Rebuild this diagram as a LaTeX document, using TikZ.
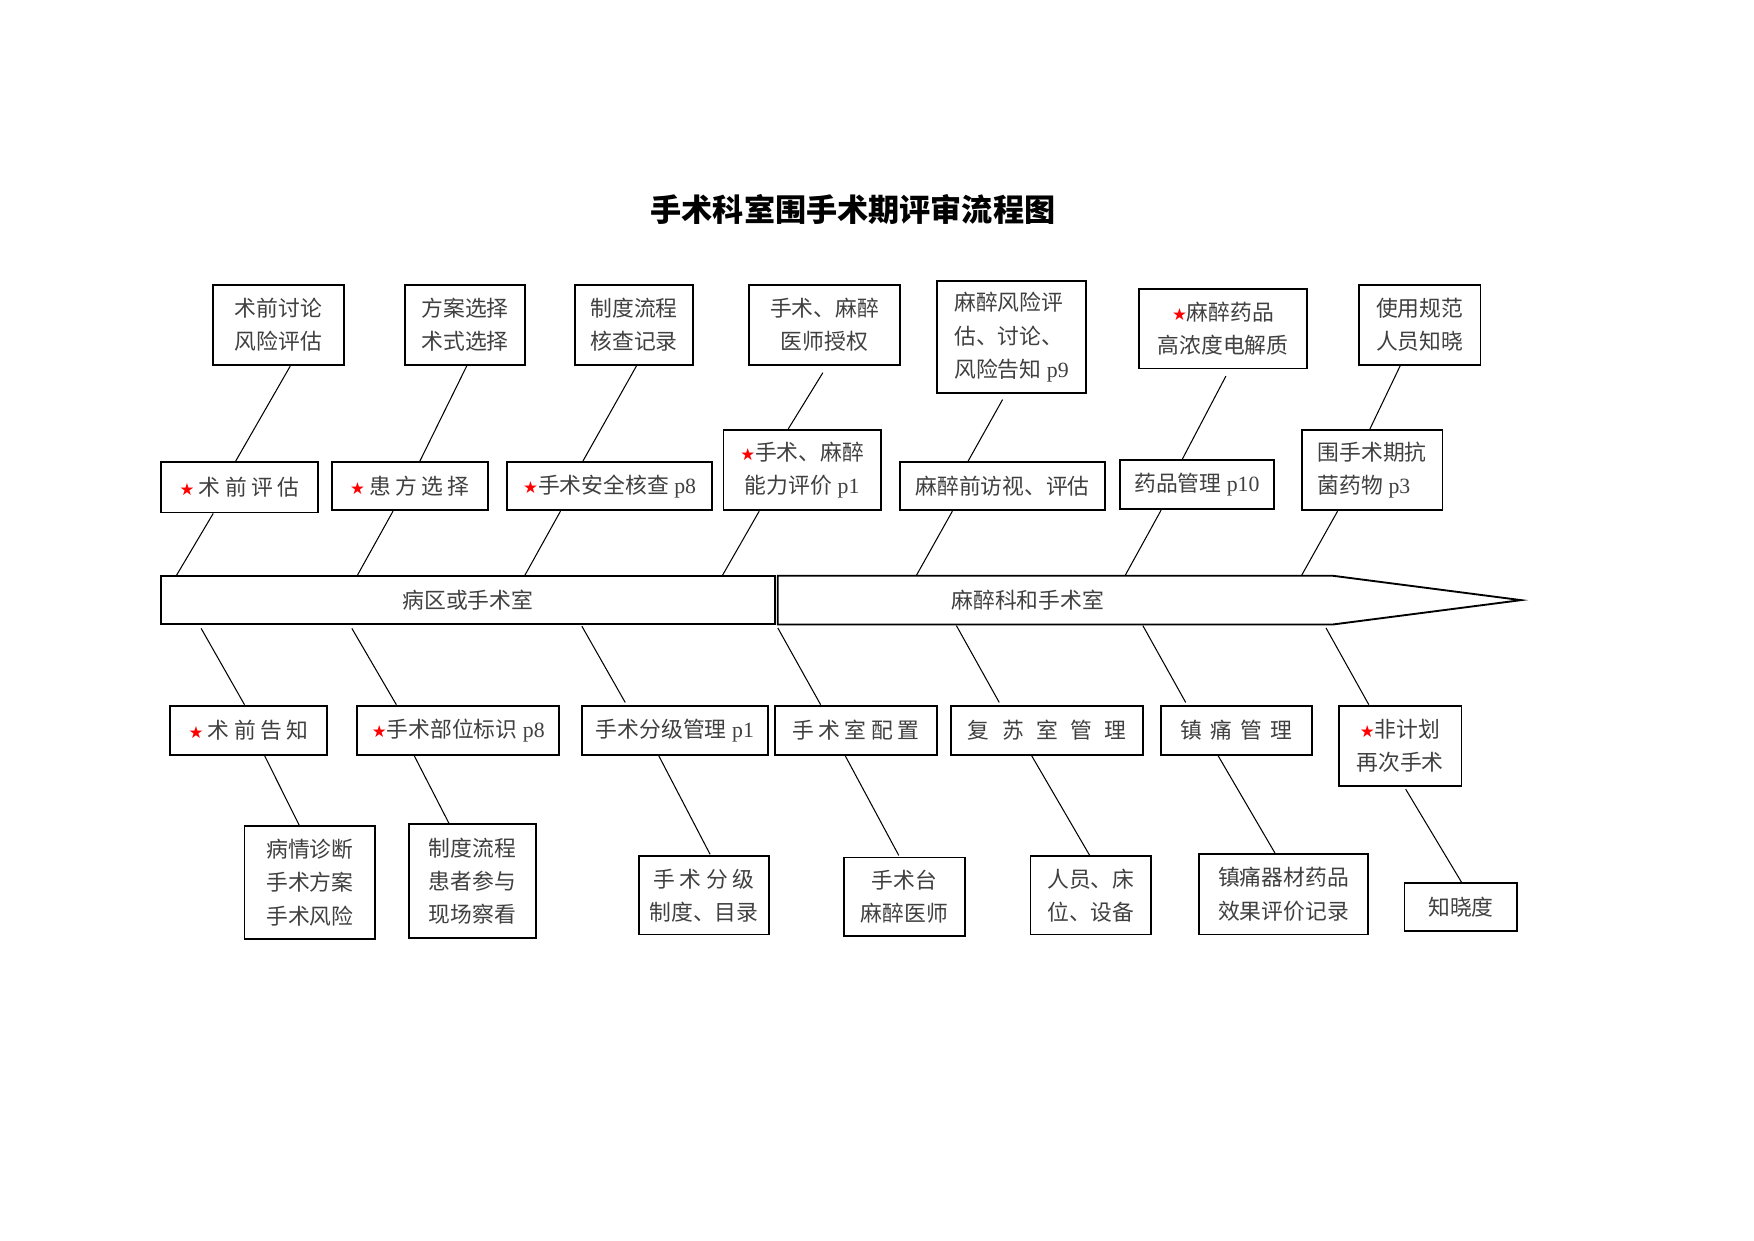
\documentclass[tikz,border=0pt]{standalone}
\usepackage{fontspec}
\setmainfont{Noto Sans CJK SC}
\newfontfamily\lat{Liberation Serif}
\newfontfamily\dvs{DejaVu Sans}
\usetikzlibrary{calc}
\def\uu{0.18905mm}
\newcommand\rs{{\color{red}\dvs\fontsize{8}{8}\selectfont ★}}
\newcommand\pn[1]{\hspace{0.25em}{\lat #1}}
\newcommand\gp[1]{\hspace{#1em}}
\tikzset{
  box/.style={draw, line width=0.9pt, inner sep=0pt, text=black!75,
    font=\fontsize{10.5}{16}\selectfont, align=center},
  conn/.style={line width=0.5pt},
}
\begin{document}
\begin{tikzpicture}[x=\uu, y=-\uu]
\fill[white] (0,0) rectangle (1571,1111.5);
\useasboundingbox (0,0) rectangle (1571,1111.5);

\node[font=\fontsize{15}{18}\selectfont\bfseries, text=black] (title) at (764,188) {手术科室围手术期评审流程图};

% top tier
\node[box, minimum width=117*\uu, minimum height=72*\uu] (T1) at (249.5,291) {术前讨论\\风险评估};
\node[box, minimum width=107*\uu, minimum height=72*\uu] (T2) at (416.5,291) {方案选择\\术式选择};
\node[box, minimum width=106*\uu, minimum height=72*\uu] (T3) at (568,291) {制度流程\\核查记录};
\node[box, minimum width=135*\uu, minimum height=72*\uu] (T4) at (738.5,291) {手术、麻醉\\医师授权};
\node[box, align=left, minimum width=134*\uu, minimum height=100*\uu] (T5) at (906,302) {麻醉风险评\\估、讨论、\\风险告知\pn{p9}};
\node[box, minimum width=151*\uu, minimum height=71*\uu] (T6) at (1095.5,294.5) {\rs 麻醉药品\\高浓度电解质};
\node[box, minimum width=109*\uu, minimum height=72*\uu] (T7) at (1271.5,291) {使用规范\\人员知晓};

% second tier
\node[box, minimum width=141*\uu, minimum height=45*\uu] (S1) at (214.5,436.5) {\rs\gp{.2}术\gp{.2}前\gp{.2}评\gp{.2}估};
\node[box, minimum width=140*\uu, minimum height=43*\uu] (S2) at (367,435.5) {\rs\gp{.2}患\gp{.2}方\gp{.2}选\gp{.2}择};
\node[box, minimum width=184*\uu, minimum height=43*\uu] (S3) at (546,435.5) {\rs 手术安全核查\pn{p8}};
\node[box, minimum width=141*\uu, minimum height=72*\uu] (S4) at (718.5,421) {\rs 手术、麻醉\\能力评价\pn{p1}};
\node[box, minimum width=184*\uu, minimum height=43*\uu] (S5) at (898,435.5) {麻醉前访视、评估};
\node[box, minimum width=138*\uu, minimum height=44*\uu] (S6) at (1072,434) {药品管理\pn{p10}};
\node[box, align=left, minimum width=126*\uu, minimum height=72*\uu] (S7) at (1229,421) {围手术期抗\\菌药物\pn{p3}};

% spine
\node[box, minimum width=550*\uu, minimum height=43*\uu] (L) at (419,537.5) {病区或手术室};
\node[inner sep=0pt, minimum width=496*\uu, minimum height=43*\uu] (R) at (945,537.5) {};
\draw[line width=0.9pt] (R.north west) -- (R.north east) -- ($(R.east)+(169,0)$) -- (R.south east) -- (R.south west) -- cycle;
\node[text=black!75, font=\fontsize{10.5}{16}\selectfont] (RT) at ([xshift=-24.5*\uu]R.center) {麻醉科和手术室};

% third tier
\node[box, minimum width=141*\uu, minimum height=44*\uu] (B1) at (222.5,654) {\rs\gp{.2}术\gp{.2}前\gp{.2}告\gp{.2}知};
\node[box, minimum width=181*\uu, minimum height=44*\uu] (B2) at (410.5,654) {\rs 手术部位标识\pn{p8}};
\node[box, minimum width=167*\uu, minimum height=44*\uu] (B3) at (604.5,654) {手术分级管理\pn{p1}};
\node[box, minimum width=145*\uu, minimum height=44*\uu] (B4) at (766.5,654) {手\gp{.2}术\gp{.2}室\gp{.2}配\gp{.2}置};
\node[box, minimum width=172*\uu, minimum height=44*\uu] (B5) at (938,654) {复\gp{.57}苏\gp{.57}室\gp{.57}管\gp{.57}理};
\node[box, minimum width=135*\uu, minimum height=44*\uu] (B6) at (1107.5,654) {镇\gp{.37}痛\gp{.37}管\gp{.37}理};
\node[box, minimum width=110*\uu, minimum height=72*\uu] (B7) at (1254,668) {\rs 非计划\\再次手术};

% fourth tier
\node[box, align=left, minimum width=117*\uu, minimum height=101*\uu] (D1) at (277.5,790.5) {病情诊断\\手术方案\\手术风险};
\node[box, align=left, minimum width=114*\uu, minimum height=102*\uu] (D2) at (423,789) {制度流程\\患者参与\\现场察看};
\node[box, minimum width=117*\uu, minimum height=70*\uu] (D3) at (630.5,802) {手\gp{.2}术\gp{.2}分\gp{.2}级\\制度、目录};
\node[box, minimum width=108*\uu, minimum height=70*\uu] (D4) at (810,803) {手术台\\麻醉医师};
\node[box, align=left, minimum width=108*\uu, minimum height=70*\uu] (D5) at (977,802) {人员、床\\位、设备};
\node[box, minimum width=151*\uu, minimum height=72*\uu] (D6) at (1149.5,801) {镇痛器材药品\\效果评价记录};
\node[box, minimum width=101*\uu, minimum height=43*\uu] (D7) at (1308.5,812.5) {知晓度};

% connectors top tier -> second tier
\draw[conn] ([xshift=10.5*\uu]T1.south) -- ([xshift=-3.5*\uu]S1.north);
\draw[conn] ([xshift=1.5*\uu]T2.south) -- ([xshift=9*\uu]S2.north);
\draw[conn] ([xshift=2*\uu]T3.south) -- ([xshift=-24*\uu]S3.north);
\draw[conn] ([xshift=-1.5*\uu,yshift=-6*\uu]T4.south) -- ([xshift=-12.5*\uu]S4.north);
\draw[conn] ([xshift=-8*\uu,yshift=-5*\uu]T5.south) -- ([xshift=-31*\uu]S5.north);
\draw[conn] ([xshift=2.5*\uu,yshift=-6*\uu]T6.south) -- ([xshift=-13*\uu]S6.north);
\draw[conn] ([xshift=-17.5*\uu]T7.south) -- ([xshift=-2*\uu]S7.north);

% second tier -> spine
\draw[conn] ([xshift=-23.5*\uu]S1.south) -- ([xshift=15*\uu]L.north west);
\draw[conn] ([xshift=-15*\uu]S2.south) -- ([xshift=177*\uu]L.north west);
\draw[conn] ([xshift=-44*\uu]S3.south) -- ([xshift=327*\uu]L.north west);
\draw[conn] ([xshift=-38.5*\uu]S4.south) -- ([xshift=504*\uu]L.north west);
\draw[conn] ([xshift=-45*\uu]S5.south) -- ([xshift=124*\uu]R.north west);
\draw[conn] ([xshift=-32*\uu]S6.south) -- ([xshift=311*\uu]R.north west);
\draw[conn] ([xshift=-31*\uu]S7.south) -- ([xshift=469*\uu]R.north west);

% spine -> third tier
\draw[conn] ([xshift=37*\uu,yshift=-3*\uu]L.south west) -- ([xshift=-3.5*\uu]B1.north);
\draw[conn] ([xshift=172*\uu,yshift=-3*\uu]L.south west) -- ([xshift=-55.5*\uu]B2.north);
\draw[conn] ([xshift=378*\uu,yshift=-1*\uu]L.south west) -- ([xshift=-44.5*\uu,yshift=2*\uu]B3.north);
\draw[conn] ([xshift=0*\uu,yshift=-3*\uu]R.south west) -- ([xshift=-31.5*\uu]B4.north);
\draw[conn] ([xshift=160*\uu,yshift=-1*\uu]R.south west) -- ([xshift=-43*\uu,yshift=2*\uu]B5.north);
\draw[conn] ([xshift=327*\uu,yshift=-1*\uu]R.south west) -- ([xshift=-45.5*\uu,yshift=2*\uu]B6.north);
\draw[conn] ([xshift=491*\uu,yshift=-3*\uu]R.south west) -- ([xshift=-28*\uu]B7.north);

% third tier -> fourth tier
\draw[conn] ([xshift=14.5*\uu]B1.south) -- ([xshift=-9.5*\uu]D1.north);
\draw[conn] ([xshift=-39.5*\uu]B2.south) -- ([xshift=-21*\uu]D2.north);
\draw[conn] ([xshift=-14.5*\uu]B3.south) -- ([xshift=5.5*\uu,yshift=1*\uu]D3.north);
\draw[conn] ([xshift=-9.5*\uu]B4.south) -- ([xshift=-5*\uu,yshift=1*\uu]D4.north);
\draw[conn] ([xshift=-14*\uu]B5.south) -- ([xshift=-1*\uu]D5.north);
\draw[conn] ([xshift=-16.5*\uu]B6.south) -- ([xshift=-7.5*\uu]D6.north);
\draw[conn] ([xshift=5*\uu,yshift=-2*\uu]B7.south) -- ([xshift=0.5*\uu]D7.north);
\end{tikzpicture}
\end{document}
